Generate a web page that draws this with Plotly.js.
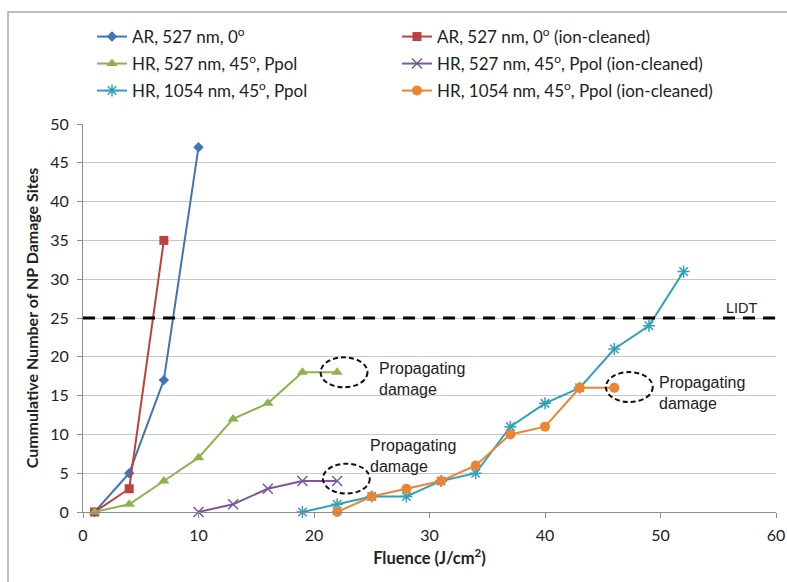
<!DOCTYPE html>
<html>
<head>
<meta charset="utf-8">
<script src="https://cdn.plot.ly/plotly-3.0.1.min.js"></script>
<style>
  html, body { margin: 0; padding: 0; background: #fff; }
  #chart { width: 787px; height: 582px; }
</style>
</head>
<body>
<div id="chart"></div>
<script>
// ---- data ----
const seriesNames = [
  'AR, 527 nm, 0<sup>o</sup>',
  'AR, 527 nm, 0<sup>o</sup> (ion-cleaned)',
  'HR, 527 nm, 45<sup>o</sup>, Ppol',
  'HR, 527 nm, 45<sup>o</sup>, Ppol (ion-cleaned)',
  'HR, 1054 nm, 45<sup>o</sup>, Ppol',
  'HR, 1054 nm, 45<sup>o</sup>, Ppol (ion-cleaned)'
];
const arX = [1, 4, 7, 10];
const arY = [0, 5, 17, 47];
const arIonX = [1, 4, 7];
const arIonY = [0, 3, 35];
const hr527X = [1, 4, 7, 10, 13, 16, 19, 22];
const hr527Y = [0, 1, 4, 7, 12, 14, 18, 18];
const hr527IonX = [10, 13, 16, 19, 22];
const hr527IonY = [0, 1, 3, 4, 4];
const hr1054X = [19, 22, 25, 28, 31, 34, 37, 40, 43, 46, 49, 52];
const hr1054Y = [0, 1, 2, 2, 4, 5, 11, 14, 16, 21, 24, 31];
const hr1054IonX = [22, 25, 28, 31, 34, 37, 40, 43, 46];
const hr1054IonY = [0, 2, 3, 4, 6, 10, 11, 16, 16];
const lidtValue = 25;
const xTickVals = [0, 10, 20, 30, 40, 50, 60];
const yTickVals = [0, 5, 10, 15, 20, 25, 30, 35, 40, 45, 50];
// "Propagating damage" markers: ellipse centre (x, y) and label anchor (x, y)
const propEllipses = [[22.6, 18.0], [22.8, 4.3], [47.3, 16.1]];
const propLabels = [[25.45, 17.1], [24.7, 7.2], [49.7, 15.4]];
const propText = 'Propagating<br>damage';

// ---- styling ----
const colors = ['#4173B7', '#BE413D', '#8DB34F', '#7A579E', '#31A0BB', '#EB8532'];
const symbols = ['diamond', 'square', 'triangle-up', 'x-thin-open', 'asterisk-open', 'circle'];
const msize = [8, 9, 10, 10, 10, 10];
const xs = [arX, arIonX, hr527X, hr527IonX, hr1054X, hr1054IonX];
const ys = [arY, arIonY, hr527Y, hr527IonY, hr1054Y, hr1054IonY];
const legendIds = xs.map((_, i) => i === 0 ? 'legend' : 'legend' + (i + 1));

const traces = xs.map((x, i) => ({
  type: 'scatter',
  mode: 'lines+markers',
  x: x, y: ys[i],
  name: seriesNames[i],
  legend: legendIds[i],
  cliponaxis: false,
  line: { color: colors[i], width: 2 },
  marker: { symbol: symbols[i], size: msize[i], color: colors[i],
            line: { color: colors[i], width: (symbols[i].indexOf('open') >= 0) ? 1.5 : 0 } }
}));

const W = 787, H = 582;
const mL = 83, mR = 11, mT = 124, mB = 70;
const pw = W - mL - mR, ph = H - mT - mB;
const px = v => (v - mL) / pw;
const py = v => (H - mB - v) / ph;

const legendCols = [92, 397];
const legendRows = [37, 64, 91];
const legendFont = { family: 'Lato, "Liberation Sans", sans-serif', size: 17, color: '#222' };

const layout = {
  width: W, height: H,
  margin: { l: mL, r: mR, t: mT, b: mB },
  paper_bgcolor: '#fff', plot_bgcolor: '#fff',
  showlegend: true
};
legendIds.forEach((id, i) => {
  layout[id] = {
    orientation: 'h', xanchor: 'left', yanchor: 'middle',
    x: px(legendCols[i % 2]), y: py(legendRows[Math.floor(i / 2)]),
    bgcolor: 'rgba(0,0,0,0)', font: legendFont, itemclick: false
  };
});

const shapes = [
  // outer chart frame (cropped at right/bottom in the reference)
  { type: 'rect', xref: 'paper', yref: 'paper', x0: px(8), x1: px(800), y0: py(12), y1: py(600),
    line: { color: '#a8a8a8', width: 1.5 }, layer: 'below' },
  // LIDT threshold
  { type: 'line', xref: 'x', yref: 'y', x0: xTickVals[0], x1: xTickVals[xTickVals.length - 1], y0: lidtValue, y1: lidtValue,
    line: { color: '#000', width: 3, dash: '12px,8px' } }
];
propEllipses.forEach(c => {
  shapes.push({ type: 'circle', xref: 'x', yref: 'y',
    x0: c[0] - 2.03, x1: c[0] + 2.03, y0: c[1] - 1.93, y1: c[1] + 1.93,
    line: { color: '#111', width: 2, dash: '5px,3px' } });
});

const annFont = { family: '"Liberation Sans", Arial, sans-serif', size: 16, color: '#222' };
const annotations = propLabels.map(p => ({
  x: p[0], y: p[1], xref: 'x', yref: 'y', text: propText, showarrow: false,
  xanchor: 'left', yanchor: 'middle', align: 'left', font: annFont
}));
annotations.push({ x: 55.5, y: 26.3, xref: 'x', yref: 'y', text: 'LIDT', showarrow: false,
  xanchor: 'left', yanchor: 'middle', font: { family: annFont.family, size: 14.5, color: '#222' } });

const tickFont = { family: 'Lato, "Liberation Sans", sans-serif', size: 16, color: '#222' };
layout.xaxis = {
  range: [0, 60], tickvals: xTickVals, ticktext: xTickVals.map(String),
  showgrid: false, zeroline: false, showline: true, linecolor: '#8c8c8c', linewidth: 1,
  ticks: 'outside', ticklen: 5, tickcolor: '#8c8c8c', tickfont: tickFont, ticklabelstandoff: 4,
  title: { text: '<b>Fluence (J/cm<sup>2</sup>)</b>', font: { family: tickFont.family, size: 16.5, color: '#222' }, standoff: 9 }
};
layout.yaxis = {
  range: [0, 50], tickvals: yTickVals, ticktext: yTickVals.map(String),
  showgrid: true, gridcolor: '#c8c8c8', gridwidth: 1, zeroline: false,
  showline: true, linecolor: '#8c8c8c', linewidth: 1,
  ticks: 'outside', ticklen: 5, tickcolor: '#8c8c8c', tickfont: tickFont, ticklabelstandoff: 5,
  title: { text: '<b>Cummulative Number of NP Damage Sites</b>', font: { family: tickFont.family, size: 16, color: '#222' }, standoff: 7 }
};
layout.shapes = shapes;
layout.annotations = annotations;

Plotly.newPlot('chart', traces, layout, { displayModeBar: false, staticPlot: true });
</script>
</body>
</html>
